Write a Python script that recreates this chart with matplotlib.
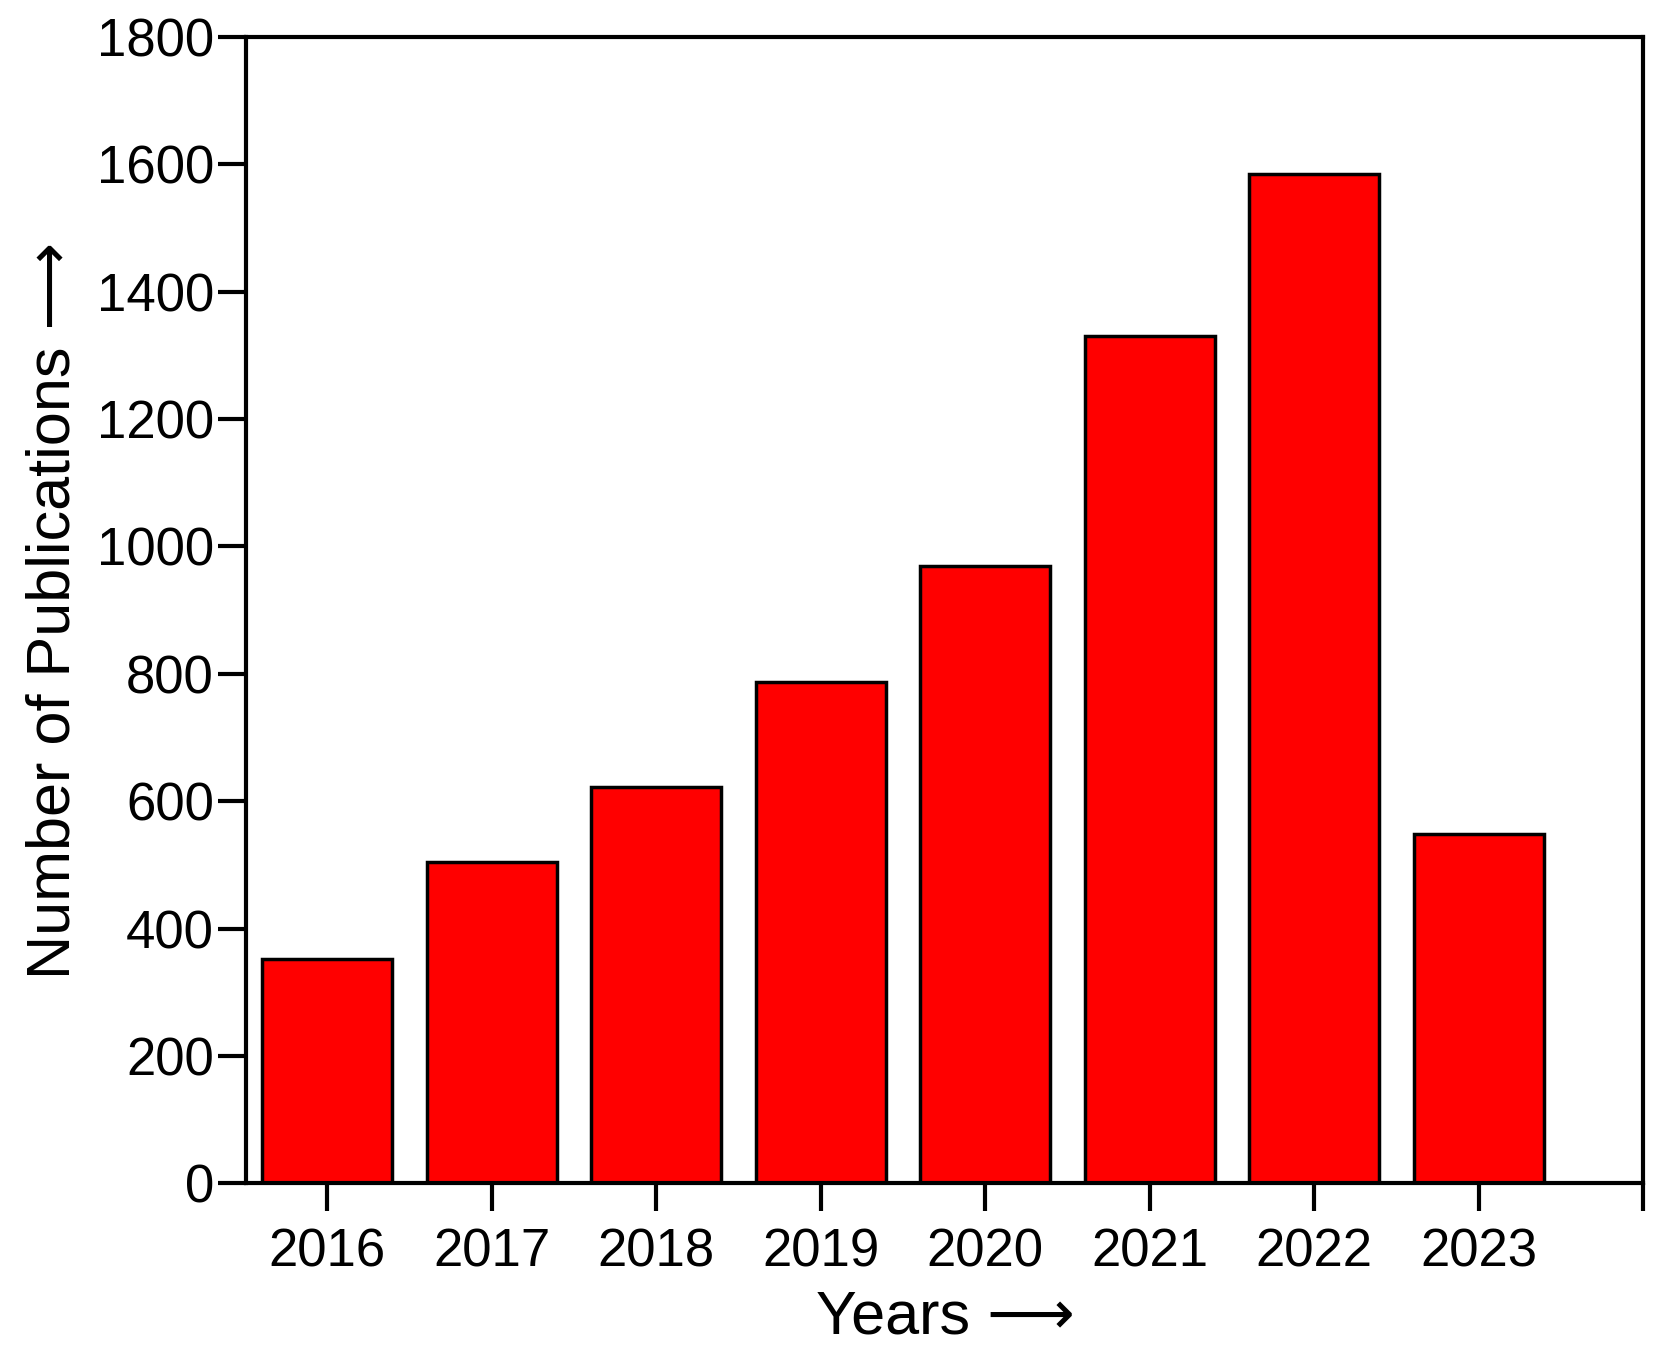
import matplotlib.pyplot as plt

plt.rcParams['font.family'] = ['Liberation Sans', 'DejaVu Sans']

years = ["2016", "2017", "2018", "2019", "2020", "2021", "2022", "2023"]
counts = [352, 505, 623, 787, 970, 1330, 1585, 548]

fig = plt.figure(figsize=(16.65, 13.65), dpi=100)
ax = fig.add_axes([0.148, 0.133, 0.839, 0.840])

x = list(range(len(years)))
ax.bar(x, counts, width=0.79, color='#ff0000', edgecolor='black', linewidth=2.5)

ax.set_xlim(-0.49, 8.0)
ax.set_ylim(0, 1800)
ax.set_xticks(x + [8])
ax.set_xticklabels(years + [""])
ax.set_yticks(range(0, 1801, 200))

for s in ax.spines.values():
    s.set_linewidth(3)
ax.tick_params(axis='both', direction='out', length=20, width=3, labelsize=38)
ax.tick_params(axis='x', pad=12)

ax.set_xlabel("Years \u27f6", fontsize=44, labelpad=8)
ax.set_ylabel("Number of Publications \u27f6", fontsize=44, labelpad=10)

fig.savefig("out.png")
